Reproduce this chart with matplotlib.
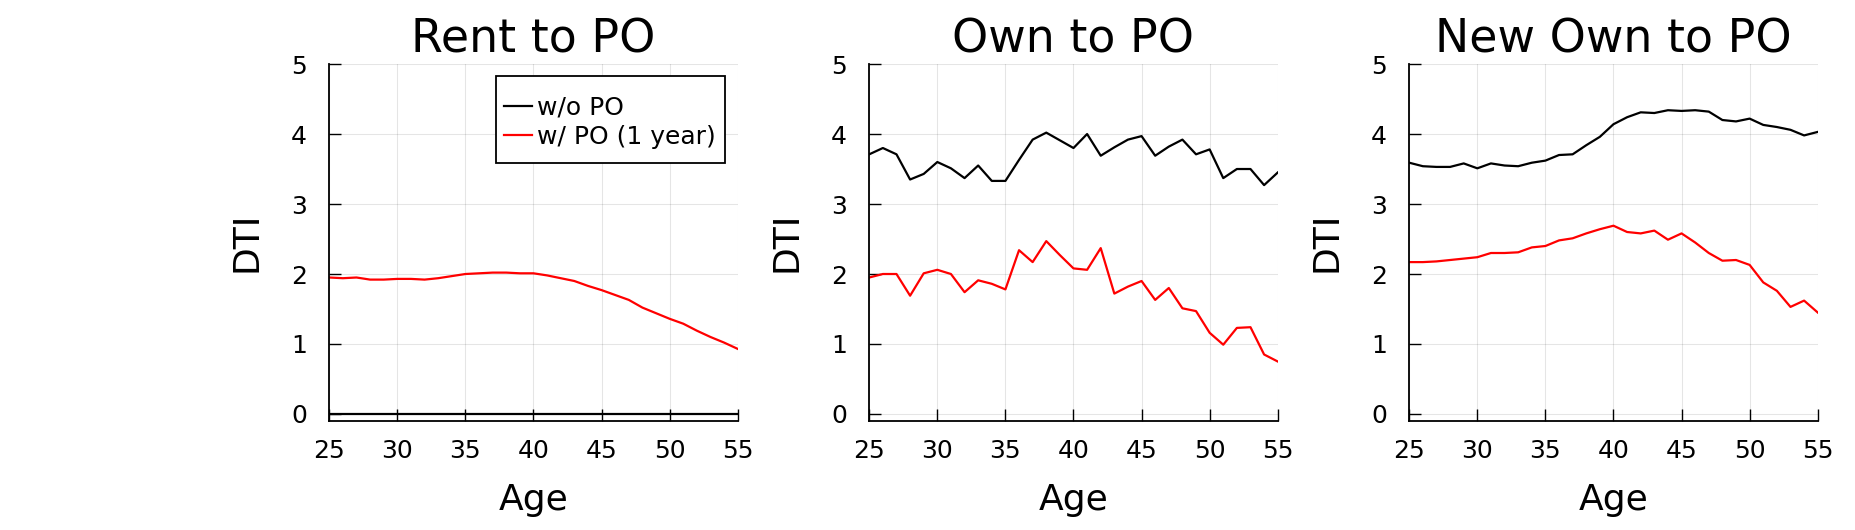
import numpy as np
import matplotlib
matplotlib.use("Agg")
import matplotlib.pyplot as plt
from matplotlib.patches import Rectangle

# ages on the x axis
ages = np.arange(25, 56)

# Rent to PO
rent_wo = [0.0] * 31
rent_w = [1.95, 1.94, 1.95, 1.92, 1.92, 1.93, 1.93, 1.92, 1.94, 1.97,
          2.00, 2.01, 2.02, 2.02, 2.01, 2.01, 1.98, 1.94, 1.90, 1.83,
          1.77, 1.70, 1.63, 1.52, 1.44, 1.36, 1.29, 1.19, 1.10, 1.02, 0.93]

# Own to PO
own_wo = [3.71, 3.80, 3.71, 3.35, 3.43, 3.60, 3.51, 3.37, 3.55, 3.33,
          3.33, 3.63, 3.92, 4.02, 3.91, 3.80, 4.00, 3.69, 3.81, 3.92,
          3.97, 3.69, 3.82, 3.92, 3.71, 3.78, 3.37, 3.50, 3.50, 3.27, 3.45]
own_w = [1.95, 2.00, 2.00, 1.69, 2.01, 2.06, 2.00, 1.74, 1.91, 1.86,
         1.78, 2.34, 2.17, 2.47, 2.27, 2.08, 2.06, 2.37, 1.72, 1.82,
         1.90, 1.63, 1.80, 1.51, 1.47, 1.16, 0.99, 1.23, 1.24, 0.85, 0.75]

# New Own to PO
new_wo = [3.59, 3.54, 3.53, 3.53, 3.58, 3.51, 3.58, 3.55, 3.54, 3.59,
          3.62, 3.70, 3.71, 3.84, 3.96, 4.14, 4.24, 4.31, 4.30, 4.34,
          4.33, 4.34, 4.32, 4.20, 4.18, 4.22, 4.13, 4.10, 4.06, 3.98, 4.03]
new_w = [2.17, 2.17, 2.18, 2.20, 2.22, 2.24, 2.30, 2.30, 2.31, 2.38,
         2.40, 2.48, 2.51, 2.58, 2.64, 2.69, 2.60, 2.58, 2.62, 2.49,
         2.58, 2.45, 2.30, 2.19, 2.20, 2.13, 1.88, 1.76, 1.53, 1.62, 1.45]

titles = ["Rent to PO", "Own to PO", "New Own to PO"]
series = [(rent_wo, rent_w), (own_wo, own_w), (new_wo, new_w)]
labels = ["w/o PO", "w/ PO (1 year)"]
x_ticks = [25, 30, 35, 40, 45, 50, 55]
y_ticks = [0, 1, 2, 3, 4, 5]

plt.rcParams['font.family'] = ['DejaVu Sans']

fig = plt.figure(figsize=(18.55, 5.30), dpi=100)

lefts = [0.1775, 0.4686, 0.7597]
for i, left in enumerate(lefts):
    ax = fig.add_axes([left, 0.2066, 0.2202, 0.6726])
    wo, w = series[i]
    ax.plot(ages, wo, color="black", lw=1.6, label=labels[0])
    ax.plot(ages, w, color="#ff0000", lw=1.6, label=labels[1])

    ax.set_xlim(25, 55)
    ax.set_ylim(-0.093, 5)
    ax.set_xticks(x_ticks)
    ax.set_yticks(y_ticks)
    ax.grid(True, color="black", alpha=0.1, lw=0.8)
    ax.tick_params(direction="in", length=8.5, width=1.0, labelsize=18)
    ax.tick_params(axis="x", pad=13.5)
    ax.tick_params(axis="y", pad=16)
    for s in ["top", "right"]:
        ax.spines[s].set_visible(False)
    for s in ["left", "bottom"]:
        ax.spines[s].set_linewidth(1.3)

    ax.set_title(titles[i], fontsize=33, pad=8)
    ax.set_xlabel("Age", fontsize=26, labelpad=14)
    ax.set_ylabel("DTI", fontsize=26, labelpad=20)

    if i == 0:
        # legend without its own frame, box drawn separately (taller padding like the original)
        ax.legend(loc="center", bbox_to_anchor=(0.687, 0.837), fontsize=18,
                  frameon=False, handlelength=1.1, handletextpad=0.2,
                  labelspacing=0.2, borderpad=0.0)
        ax.add_patch(Rectangle((0.408, 0.7223), 0.5607, 0.244, transform=ax.transAxes,
                               fill=True, facecolor="white", edgecolor="black",
                               lw=1.3, zorder=4.5, clip_on=False))

fig.savefig("out.png", dpi=100)
